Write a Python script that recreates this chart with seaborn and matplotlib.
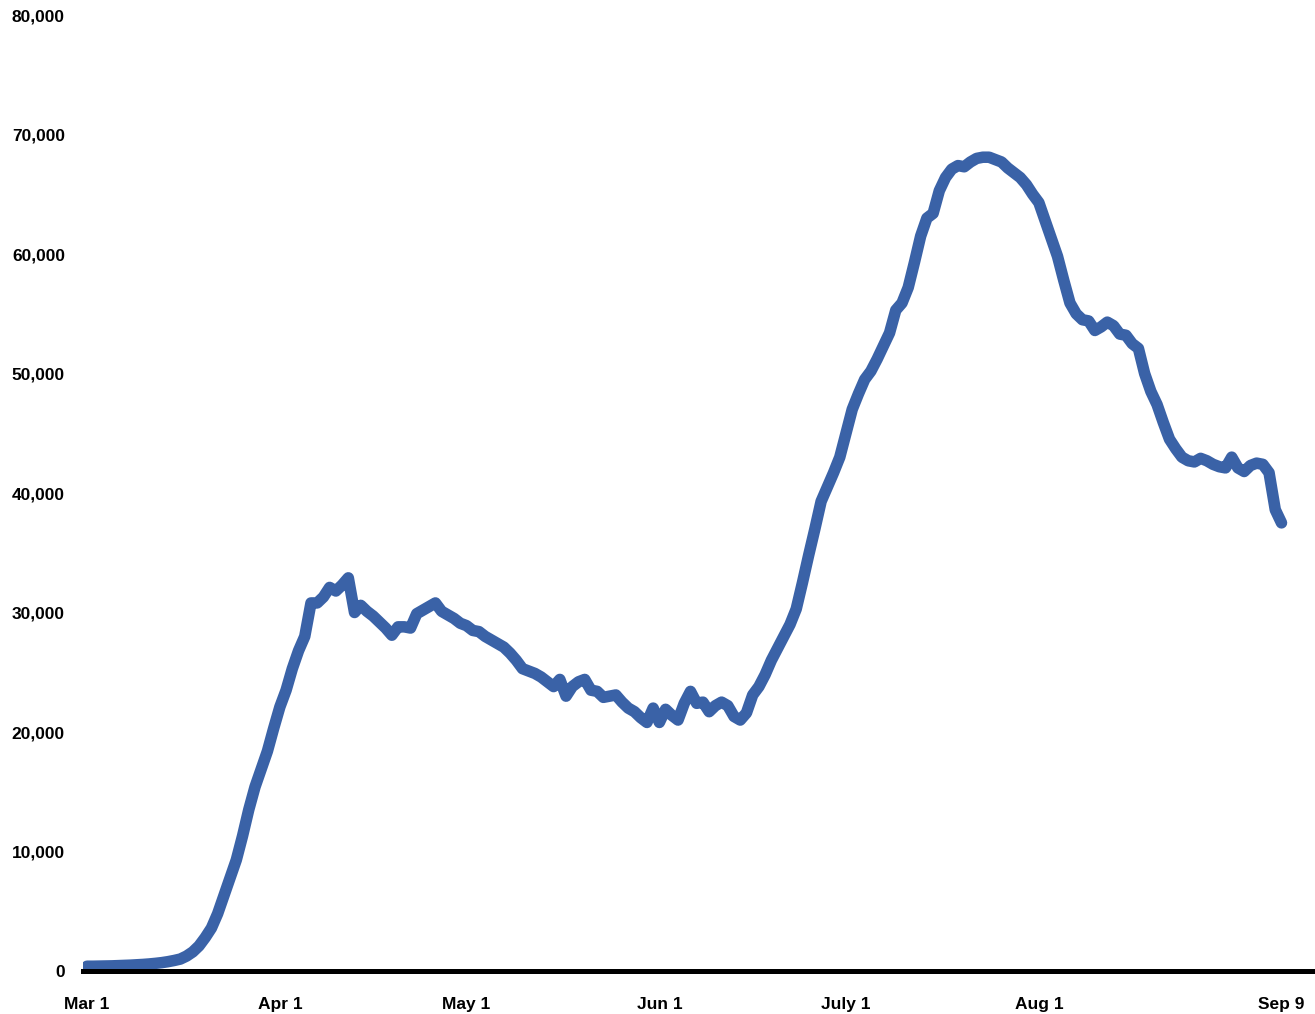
import pandas as pd
import matplotlib
matplotlib.use("Agg")
import matplotlib.pyplot as plt
import seaborn as sns

# ================================================================
# DATA (daily values, Mar 1 - Sep 9)
# ================================================================
START_DATE = "2020-03-01"

mar_values = [400, 400, 410, 420, 430, 450, 470, 490, 520, 550,
              590, 640, 700, 780, 880, 1000, 1250, 1600, 2100, 2800,
              3600, 4800, 6300, 7800, 9300, 11300, 13500, 15400, 16900, 18400,
              20300]
apr_values = [22100, 23500, 25300, 26800, 28000, 30800, 30800, 31300, 32100, 31800,
              32300, 32900, 30000, 30600, 30100, 29700, 29200, 28700, 28100, 28800,
              28800, 28700, 29900, 30200, 30500, 30800, 30100, 29800, 29500, 29100]
may_values = [28900, 28500, 28400, 28000, 27700, 27400, 27100, 26600, 26000, 25300,
              25100, 24900, 24600, 24200, 23800, 24400, 23000, 23800, 24200, 24400,
              23500, 23400, 22900, 23000, 23100, 22500, 22000, 21700, 21200, 20800,
              22000]
jun_values = [20800, 21900, 21400, 21000, 22400, 23400, 22400, 22500, 21700, 22200,
              22500, 22200, 21300, 21000, 21600, 23100, 23800, 24800, 26000, 27000,
              28000, 29000, 30300, 32500, 34800, 37000, 39300, 40500, 41700, 43000]
jul_values = [45000, 47000, 48300, 49500, 50200, 51200, 52300, 53400, 55300, 55900,
              57200, 59300, 61500, 63000, 63400, 65300, 66400, 67100, 67400, 67300,
              67700, 68000, 68100, 68100, 67900, 67700, 67200, 66800, 66400, 65800,
              65000]
aug_values = [64300, 62800, 61300, 59800, 57800, 55900, 55000, 54500, 54400, 53600,
              53900, 54300, 54000, 53300, 53200, 52500, 52100, 50000, 48500, 47400,
              45900, 44500, 43700, 43000, 42700, 42600, 42900, 42700, 42400, 42200,
              42100]
sep_values = [43000, 42100, 41800, 42300, 42500, 42400, 41700, 38600, 37500]

tick_dates = ["2020-03-01", "2020-04-01", "2020-05-01", "2020-06-01",
              "2020-07-01", "2020-08-01", "2020-09-09"]
tick_labels = ["Mar 1", "Apr 1", "May 1", "Jun 1", "July 1", "Aug 1", "Sep 9"]
y_ticks = [0, 10000, 20000, 30000, 40000, 50000, 60000, 70000, 80000]

LINE_COLOR = "#3A62A7"

# ================================================================
# FIGURE
# ================================================================
values = mar_values + apr_values + may_values + jun_values + jul_values + aug_values + sep_values
df = pd.DataFrame({
    "date": pd.date_range(START_DATE, periods=len(values), freq="D"),
    "value": values,
})

sns.set_style("white")
plt.rcParams["font.family"] = ["Liberation Sans", "DejaVu Sans"]
plt.rcParams["font.weight"] = "bold"
plt.rcParams["text.color"] = "black"
plt.rcParams["xtick.color"] = "black"
plt.rcParams["ytick.color"] = "black"

fig = plt.figure(figsize=(13.15, 10.14), dpi=100)
ax = fig.add_axes([0.0631, 0.0424, 0.9346, 0.9428])

sns.lineplot(data=df, x="date", y="value", ax=ax, color=LINE_COLOR,
             linewidth=8.3, solid_capstyle="round", solid_joinstyle="round")

start = pd.Timestamp(START_DATE)
ax.set_xlim(start - pd.Timedelta(days=0.65), start + pd.Timedelta(days=196.9))
ax.set_ylim(0, 80000)

ax.set_xticks([pd.Timestamp(d) for d in tick_dates])
ax.set_xticklabels(tick_labels, fontsize=12.5, fontweight="bold", color="black")
ax.set_yticks(y_ticks)
ax.set_yticklabels([f"{v:,}" for v in y_ticks], fontsize=12.5, fontweight="bold",
                   color="black")
ax.tick_params(axis="both", length=0)
ax.tick_params(axis="y", pad=13)
ax.tick_params(axis="x", pad=19)

ax.set_xlabel("")
ax.set_ylabel("")
ax.grid(False)

for side in ["top", "right", "left"]:
    ax.spines[side].set_visible(False)
ax.spines["bottom"].set_color("black")
ax.spines["bottom"].set_linewidth(3.6)
ax.spines["bottom"].set_zorder(3)

fig.savefig("out.png", dpi=100, facecolor="white")
